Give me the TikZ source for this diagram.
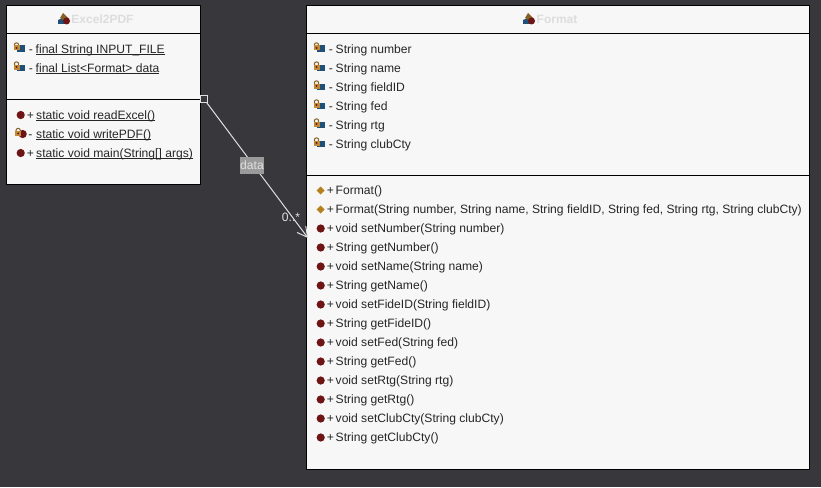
\documentclass[tikz,border=0pt]{standalone}
\usepackage{fontspec}
\setmainfont{Liberation Sans}
\usetikzlibrary{arrows.meta}
\definecolor{canvasgray}{HTML}{37373C}
\definecolor{boxwhite}{HTML}{F7F7F7}
\definecolor{titlegray}{HTML}{DDDDDD}
\definecolor{labelgray}{HTML}{9A9A9A}
\definecolor{linkgray}{HTML}{E0E0E0}
\definecolor{methodred}{HTML}{6E1414}
\definecolor{ctorgold}{HTML}{B5801E}
\definecolor{fieldblue}{HTML}{1F5078}
\definecolor{lockgold}{HTML}{C08A38}
\newcommand{\ulmember}[1]{\sbox0{#1}\rlap{\rule[-2pt]{\wd0}{.8pt}}\box0}
\tikzset{
  classbox/.style={draw=black,fill=boxwhite,line width=1pt},
  divider/.style={draw=black,line width=1pt},
  classtitle/.style={font=\fontsize{12}{14}\selectfont\bfseries,text=titlegray,inner sep=0pt},
  member/.style={font=\fontsize{12.1}{14}\selectfont,text=black!85,anchor=base west,inner sep=0pt},
  vis/.style={font=\fontsize{12.1}{14}\selectfont,text=black!85,anchor=base,inner sep=0pt},
  linklabel/.style={font=\fontsize{12.1}{14}\selectfont,text=linkgray,inner sep=0pt},
  lockicon/.pic={
    \draw[lockgold!70!black,line width=1pt] (0,-2.5) circle (2.2);
    \fill[lockgold] (-3,-2) rectangle (3,3);
    \fill[methodred] (0,.4) circle (1.1);
  },
  fieldicon/.pic={
    \fill[fieldblue] (-2,-1.5) rectangle (6,5);
    \pic at (-2.5,.5) {lockicon};
  },
  methodicon/.pic={
    \fill[methodred] (0,0) circle (4.1);
  },
  privmethodicon/.pic={
    \fill[methodred] (2,0) circle (4.1);
    \pic at (-2.5,-1) {lockicon};
  },
  ctoricon/.pic={
    \fill[ctorgold] (0,-4) -- (4,0) -- (0,4) -- (-4,0) -- cycle;
  },
  classicon/.pic={
    \fill[fieldblue] (-6,5) -- (-6,1) -- (-1,-1) -- (1,5) -- cycle;
    \fill[lockgold!70!black] (-4,-1) -- (-1,-6) -- (5,0) -- (1,2) -- cycle;
    \fill[methodred] (2.5,2) circle (3.5);
  }
}
\begin{document}
\begin{tikzpicture}[x=1pt,y=-1pt]
\useasboundingbox[fill=canvasgray] (0,0) rectangle (821,487);

% Excel2PDF
\draw[classbox] (6.5,5.5) rectangle (200.5,184.5);
\draw[divider] (6.5,33.5) -- (200.5,33.5);
\draw[divider] (6.5,99.5) -- (200.5,99.5);
\pic at (64,19) {classicon};
\node[classtitle] (exceltitle) at (102.5,19.5) {Excel2PDF};
\foreach \y/\txt [count=\i] in {53/final String INPUT\_FILE,72/final List<Format> data}{
  \pic at (19,\y-6) {fieldicon};
  \node[vis] (excelvis\i) at (31,\y) {-};
  \node[member] (excelfield\i) at (35.5,\y) {\ulmember{\txt}};
}
\foreach \y/\sym/\ico/\txt [count=\i] in {119/+/methodicon/static void readExcel(),138/-/privmethodicon/static void writePDF(),157/+/methodicon/static void main(String[] args)}{
  \pic at (20.7,\y-4) {\ico};
  \node[vis] (excelsym\i) at (30.5,\y) {\sym};
  \node[member] (excelmethod\i) at (36,\y) {\ulmember{\txt}};
}

% Format
\draw[classbox] (306.5,5.5) rectangle (809.5,469.5);
\draw[divider] (306.5,33.5) -- (809.5,33.5);
\draw[divider] (306.5,175.5) -- (809.5,175.5);
\pic at (529,19) {classicon};
\node[classtitle] (formattitle) at (557,19.5) {Format};
\foreach \txt [count=\i] in {String number,String name,String fieldID,String fed,String rtg,String clubCty}{
  \pic at (319,28+19*\i) {fieldicon};
  \node[vis] (formatvis\i) at (331,34+19*\i) {-};
  \node[member] (formatfield\i) at (335.5,34+19*\i) {\txt};
}
\foreach \ico/\txt [count=\i] in {
  ctoricon/Format(),
  ctoricon/{Format(String number, String name, String fieldID, String fed, String rtg, String clubCty)},
  methodicon/void setNumber(String number),
  methodicon/String getNumber(),
  methodicon/void setName(String name),
  methodicon/String getName(),
  methodicon/void setFideID(String fieldID),
  methodicon/String getFideID(),
  methodicon/void setFed(String fed),
  methodicon/String getFed(),
  methodicon/void setRtg(String rtg),
  methodicon/String getRtg(),
  methodicon/void setClubCty(String clubCty),
  methodicon/String getClubCty()}{
  \pic at (320.7,171.5+19*\i) {\ico};
  \node[vis] (formatsym\i) at (330.5,175.5+19*\i) {+};
  \node[member] (formatmethod\i) at (335.5,175.5+19*\i) {\txt};
}

% association
\node[draw=linkgray,fill=canvasgray,line width=1pt,minimum size=7pt,inner sep=0pt] (linkstart) at (204,99) {};
\coordinate (linkend) at (308,238);
\draw[draw=linkgray,line width=1pt,-{Straight Barb[length=10pt,width=11pt]}] (linkstart) -- (linkend);
\node[linklabel,fill=labelgray,minimum width=24pt,minimum height=17pt] (linkname) at (252,165.5) {data};
\node[linklabel] (linkmult) at (291,217) {0..*};
\end{tikzpicture}
\end{document}
